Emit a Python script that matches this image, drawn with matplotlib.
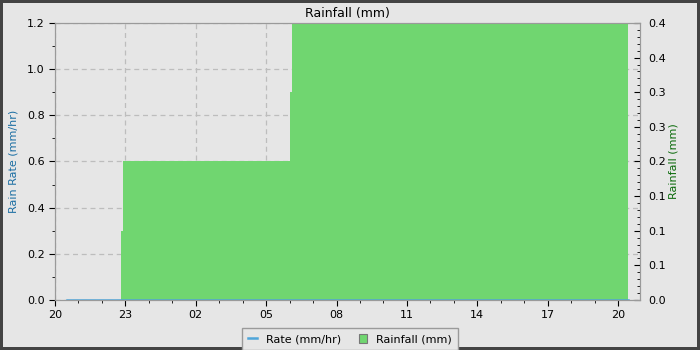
import matplotlib
matplotlib.use("Agg")
import matplotlib.pyplot as plt
import matplotlib.dates as mdates
from matplotlib.ticker import MultipleLocator, FixedLocator, FixedFormatter
import pandas as pd

# time stamps of the samples (rain steps)
times = pd.to_datetime(["2024-05-01 20:31", "2024-05-01 22:49", "2024-05-01 22:53",
                        "2024-05-02 06:01", "2024-05-02 06:05", "2024-05-02 20:25"])
rainfall = [0.0, 0.1, 0.2, 0.3, 0.4, 0.4]   # mm
rate = [0.0, 0.0, 0.0, 0.0, 0.0, 0.0]       # mm/hr

x_start = pd.Timestamp("2024-05-01 20:00")
x_end = pd.Timestamp("2024-05-02 20:56")

rain_ticks = [0.0, 0.05, 0.1, 0.15, 0.2, 0.25, 0.3, 0.35, 0.4]
rain_labels = ["0.0", "0.1", "0.1", "0.1", "0.2", "0.3", "0.3", "0.4", "0.4"]

bg = "#e6e6e6"
fig = plt.figure(figsize=(7, 3.5), dpi=100)
fig.patch.set_facecolor(bg)
fig.patch.set_edgecolor("#444444")
fig.patch.set_linewidth(4)

ax1 = fig.add_axes([55 / 700, 50 / 350, 585 / 700, 277 / 350])
ax1.set_facecolor(bg)
ax2 = ax1.twinx()

# rainfall fill on the right axis
fill = ax2.fill_between(times, rainfall, step="post", color="#70d670", linewidth=0,
                        label="Rainfall (mm)")
# rate line drawn on ax2 (so it sits above the fill) but in ax1 coordinates
line, = ax2.plot(times, rate, color="#4fa6da", linewidth=1.8, transform=ax1.transData,
                 label="Rate (mm/hr)")

ax1.set_xlim(x_start, x_end)
ax1.set_ylim(0, 1.2)
ax2.set_ylim(0, 0.4)

ax1.xaxis.set_major_locator(mdates.HourLocator(byhour=range(2, 24, 3)))
ax1.xaxis.set_minor_locator(mdates.HourLocator())
ax1.xaxis.set_major_formatter(mdates.DateFormatter("%H"))
ax1.yaxis.set_major_locator(MultipleLocator(0.2))
ax1.yaxis.set_minor_locator(MultipleLocator(0.1))
ax1.yaxis.set_major_formatter(lambda v, p: "%.1f" % v)

ax2.yaxis.set_major_locator(FixedLocator(rain_ticks))
ax2.yaxis.set_major_formatter(FixedFormatter(rain_labels))
ax2.yaxis.set_minor_locator(MultipleLocator(0.01))

ax1.grid(True, which="major", linestyle=(0, (4, 3)), color="#bdbdbd", linewidth=0.9)

ax1.tick_params(axis="both", which="major", direction="out", length=4, labelsize=8)
ax1.tick_params(axis="both", which="minor", direction="out", length=2.5)
ax2.tick_params(axis="y", which="major", direction="in", length=4, labelsize=8, pad=6)
ax2.tick_params(axis="y", which="minor", direction="in", length=2.5)

for ax in (ax1, ax2):
    for s in ax.spines.values():
        s.set_color("#9a9a9a")

ax1.set_ylabel("Rain Rate (mm/hr)", color="#1b6ea3", fontsize=8, labelpad=6)
ax2.set_ylabel("Rainfall (mm)", color="#0b6b0b", fontsize=8, labelpad=2)
ax1.set_title("Rainfall (mm)", fontsize=9, pad=4)

leg = fig.legend([line, fill], ["Rate (mm/hr)", "Rainfall (mm)"], loc="lower center",
                 bbox_to_anchor=(0.5, -0.015), ncol=2, fontsize=8, fancybox=False,
                 facecolor=bg, edgecolor="#9a9a9a", framealpha=1, handlelength=0.8,
                 handleheight=0.8, columnspacing=1.6, borderpad=0.5)
leg.legend_handles[1].set_edgecolor("#777777")
leg.legend_handles[1].set_linewidth(0.8)

fig.savefig("out.png", dpi=100, facecolor=fig.get_facecolor(), edgecolor=fig.get_edgecolor())
